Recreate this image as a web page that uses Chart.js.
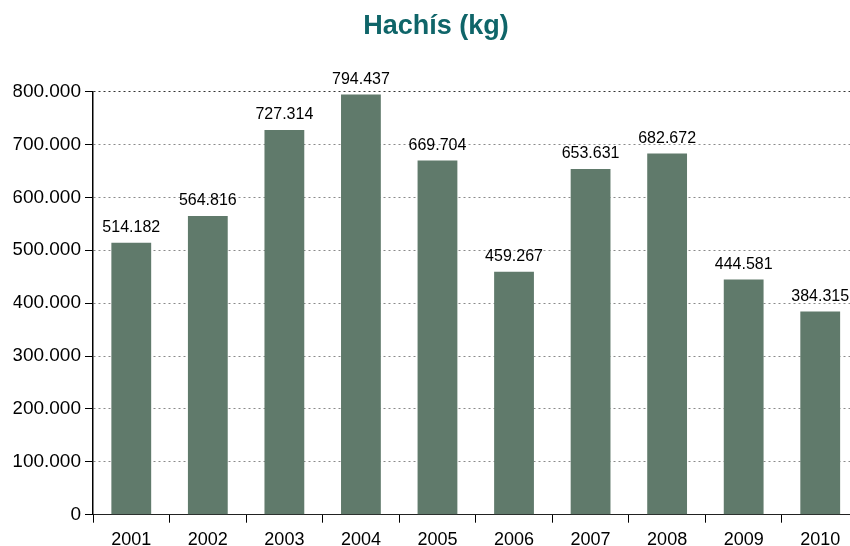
<!DOCTYPE html>
<html>
<head>
<meta charset="utf-8">
<script src="https://cdn.jsdelivr.net/npm/chart.js@4/dist/chart.umd.min.js"></script>
<style>
  html, body { margin: 0; padding: 0; background: #fff; overflow: hidden; }
  #wrap { width: 872px; height: 546px; position: relative; }
</style>
</head>
<body>
<div id="wrap"><canvas id="c" width="872" height="546"></canvas></div>
<script>
const categories = ['2001','2002','2003','2004','2005','2006','2007','2008','2009','2010'];
const hachisKg = [514182, 564816, 727314, 794437, 669704, 459267, 653631, 682672, 444581, 384315];
const yTicks = [0, 100000, 200000, 300000, 400000, 500000, 600000, 700000, 800000];
const chartTitle = 'Hachís (kg)';

const FONT = '"Liberation Sans", Arial, Helvetica, sans-serif';
function fmt(n) { return String(Math.round(n)).replace(/\B(?=(\d{3})+(?!\d))/g, '.'); }

const valueLabels = {
  id: 'valueLabels',
  afterDatasetsDraw(chart) {
    const ctx = chart.ctx;
    const meta = chart.getDatasetMeta(0);
    ctx.save();
    ctx.font = '16px ' + FONT;
    ctx.fillStyle = '#000';
    ctx.textAlign = 'center';
    ctx.textBaseline = 'alphabetic';
    meta.data.forEach((bar, i) => {
      ctx.fillText(fmt(chart.data.datasets[0].data[i]), bar.x, bar.y - 10.5);
    });
    ctx.restore();
  }
};

new Chart(document.getElementById('c'), {
  type: 'bar',
  data: {
    labels: categories,
    datasets: [{
      data: hachisKg,
      backgroundColor: '#607a6b',
      borderWidth: 0,
      barPercentage: 0.52,
      categoryPercentage: 1
    }]
  },
  options: {
    responsive: false,
    animation: false,
    layout: { padding: { left: 13.5, right: 13.5, top: 0, bottom: 0 } },
    plugins: {
      legend: { display: false },
      tooltip: { enabled: false },
      title: {
        display: true,
        text: chartTitle,
        color: '#0f6569',
        font: { family: FONT, size: 27, weight: 'bold' },
        padding: { top: 10, bottom: 91.5 - 10 - 27 * 1.2 }
      }
    },
    scales: {
      x: {
        offset: true,
        grid: {
          display: true,
          offset: true,
          drawOnChartArea: false,
          drawTicks: true,
          tickLength: 8,
          tickColor: '#000',
          tickWidth: 1
        },
        border: { display: true, color: '#222', width: 1 },
        ticks: {
          color: '#000',
          font: { family: FONT, size: 18 },
          padding: 7,
          maxRotation: 0,
          autoSkip: false
        },
        afterFit(scale) { scale.height = 546 - 514.7; }
      },
      y: {
        min: 0,
        max: 800000,
        afterBuildTicks(scale) { scale.ticks = yTicks.map(v => ({ value: v })); },
        grid: {
          color: (c) => (c.tick && c.tick.value === 800000) ? '#333' : '#8a8a8a',
          lineWidth: 1,
          drawTicks: true,
          tickLength: 8,
          tickColor: '#000',
          tickWidth: 1,
          tickBorderDash: []
        },
        border: { display: true, color: '#000', width: 1.5, dash: [2, 3] },
        ticks: {
          color: '#000',
          font: { family: FONT, size: 19 },
          padding: 4,
          callback: (v) => fmt(v)
        },
        afterFit(scale) { scale.width = 93 - 13.5; }
      }
    }
  },
  plugins: [valueLabels]
});
</script>
</body>
</html>
